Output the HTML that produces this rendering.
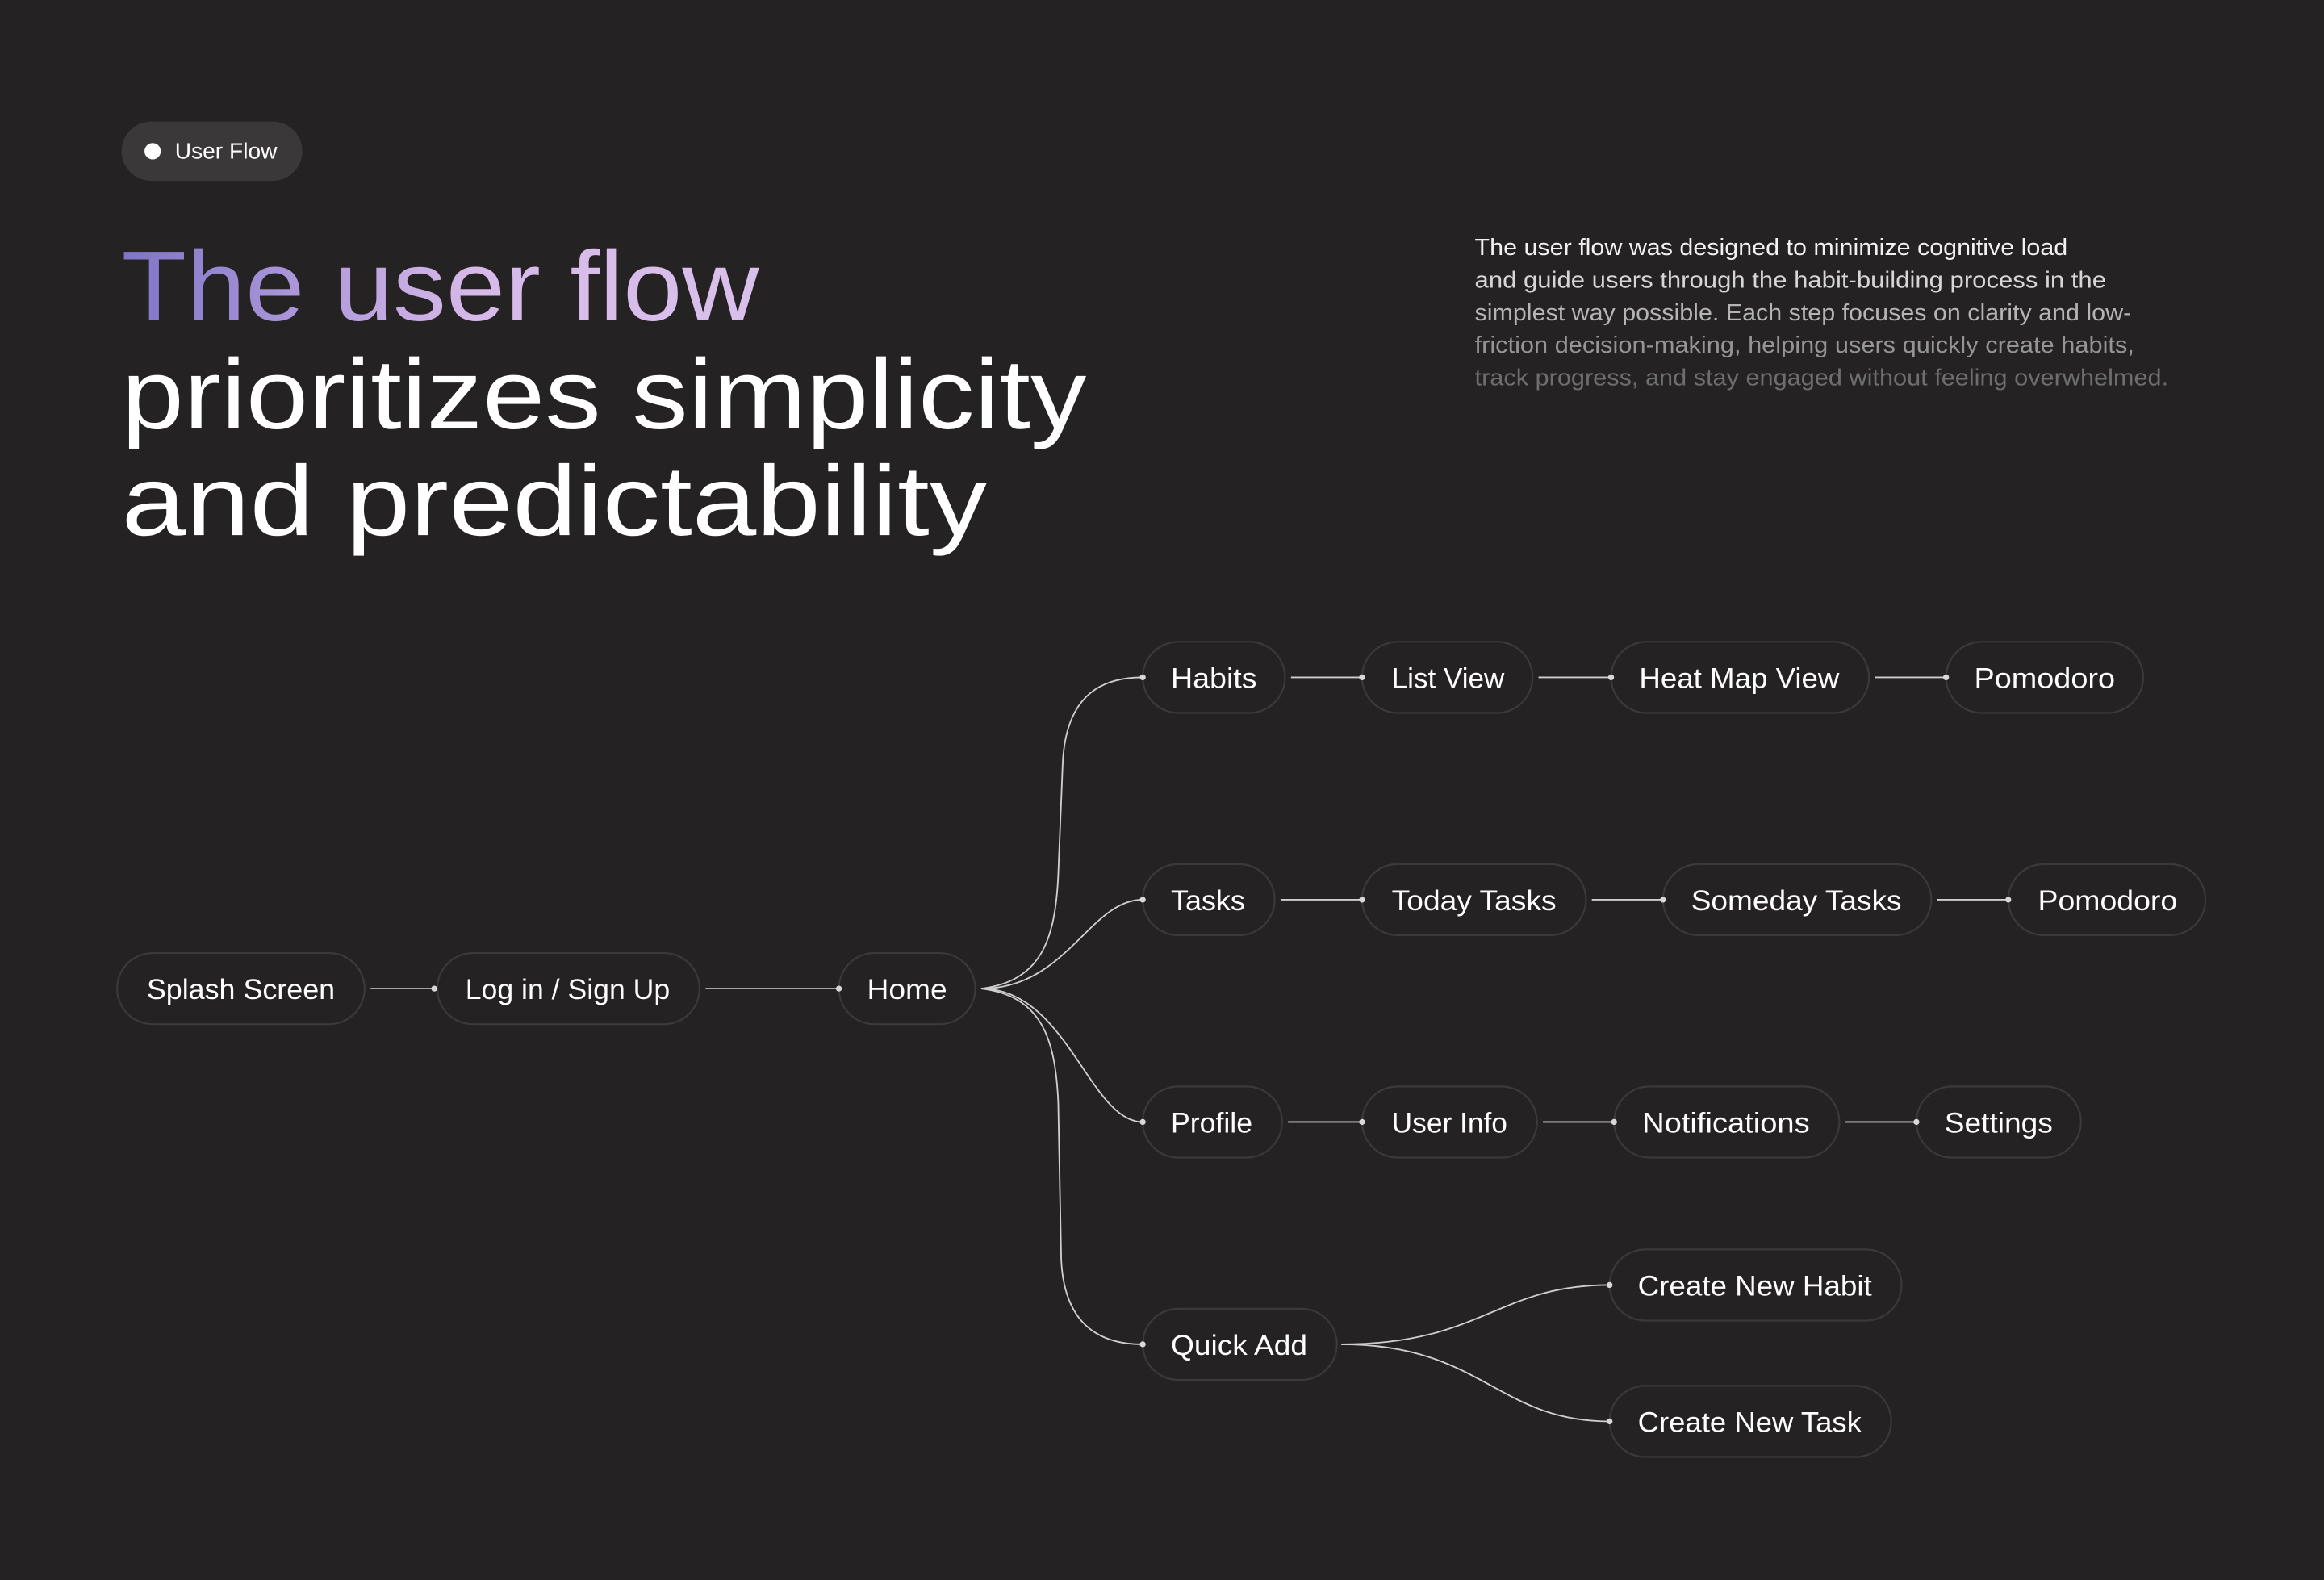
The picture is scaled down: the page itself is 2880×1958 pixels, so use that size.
<!DOCTYPE html>
<html><head><meta charset="utf-8"><style>
html,body{margin:0;padding:0;background:#252223;}
svg{display:block}
text{font-family:"Liberation Sans",sans-serif;}
</style></head><body>
<svg width="2880" height="1958" viewBox="0 0 1568 1066" xmlns="http://www.w3.org/2000/svg">
<defs>
<linearGradient id="g" x1="82" y1="0" x2="512" y2="0" gradientUnits="userSpaceOnUse">
<stop offset="0" stop-color="#7f74c8"/><stop offset="0.55" stop-color="#d7b9e9"/><stop offset="1" stop-color="#d9c0ea"/>
</linearGradient>
</defs>
<rect width="1568" height="1066" fill="#252223"/>
<rect x="82" y="82" width="122" height="40" rx="20" fill="#3a3839"/>
<circle cx="103" cy="102" r="5.5" fill="#fff"/>
<text x="118" y="107" font-size="15" fill="#fff" textLength="69" lengthAdjust="spacingAndGlyphs">User Flow</text>

<text x="82" y="216" font-size="67" fill="url(#g)" textLength="430" lengthAdjust="spacingAndGlyphs">The user flow</text>
<text x="82" y="289" font-size="67" fill="#fff" textLength="651" lengthAdjust="spacingAndGlyphs">prioritizes simplicity</text>
<text x="82" y="361" font-size="67" fill="#fff" textLength="584" lengthAdjust="spacingAndGlyphs">and predictability</text>

<g font-size="15.5">
<text x="995" y="172" fill="#f2f2f2" textLength="400" lengthAdjust="spacingAndGlyphs">The user flow was designed to minimize cognitive load</text>
<text x="995" y="194" fill="#d6d6d6" textLength="426" lengthAdjust="spacingAndGlyphs">and guide users through the habit-building process in the</text>
<text x="995" y="216" fill="#b5b5b5" textLength="443" lengthAdjust="spacingAndGlyphs">simplest way possible. Each step focuses on clarity and low-</text>
<text x="995" y="238" fill="#959595" textLength="445" lengthAdjust="spacingAndGlyphs">friction decision-making, helping users quickly create habits,</text>
<text x="995" y="260" fill="#6e6e6e" textLength="468" lengthAdjust="spacingAndGlyphs">track progress, and stay engaged without feeling overwhelmed.</text>
</g>

<g fill="none" stroke="#cfcfcf" stroke-width="1">
<path d="M662 667 C702 662 712 635 714 590 L717 515 C719 472 740 457 771 457"/>
<path d="M662 667 C720 667 735 607 771 607"/>
<path d="M662 667 C720 667 735 757 771 757"/>
<path d="M662 667 C702 672 712 699 714 744 L716 850 C718 892 740 907 771 907"/>
<path d="M905 907 C1000 907 1010 867 1086 867"/>
<path d="M905 907 C1000 907 1010 959 1086 959"/>
<line x1="250" y1="667" x2="293" y2="667"/>
<line x1="476" y1="667" x2="566" y2="667"/>
<line x1="871" y1="457" x2="919" y2="457"/>
<line x1="1038" y1="457" x2="1087" y2="457"/>
<line x1="1265" y1="457" x2="1313" y2="457"/>
<line x1="864" y1="607" x2="919" y2="607"/>
<line x1="1074" y1="607" x2="1122" y2="607"/>
<line x1="1307" y1="607" x2="1355" y2="607"/>
<line x1="869" y1="757" x2="919" y2="757"/>
<line x1="1041" y1="757" x2="1089" y2="757"/>
<line x1="1245" y1="757" x2="1293" y2="757"/>
</g>

<g fill="#252223" stroke="#3b393a" stroke-width="1.2">
<rect x="79" y="643" width="167" height="48" rx="24"/>
<rect x="295" y="643" width="177" height="48" rx="24"/>
<rect x="566" y="643" width="92" height="48" rx="24"/>
<rect x="771" y="433" width="96" height="48" rx="24"/>
<rect x="919" y="433" width="115" height="48" rx="24"/>
<rect x="1087" y="433" width="174" height="48" rx="24"/>
<rect x="1313" y="433" width="133" height="48" rx="24"/>
<rect x="771" y="583" width="89" height="48" rx="24"/>
<rect x="919" y="583" width="151" height="48" rx="24"/>
<rect x="1122" y="583" width="181" height="48" rx="24"/>
<rect x="1355" y="583" width="133" height="48" rx="24"/>
<rect x="771" y="733" width="94" height="48" rx="24"/>
<rect x="919" y="733" width="118" height="48" rx="24"/>
<rect x="1089" y="733" width="152" height="48" rx="24"/>
<rect x="1293" y="733" width="111" height="48" rx="24"/>
<rect x="771" y="883" width="131" height="48" rx="24"/>
<rect x="1086" y="843" width="197" height="48" rx="24"/>
<rect x="1086" y="935" width="190" height="48" rx="24"/>
</g>

<g fill="#d8d8d8">
<circle cx="293" cy="667" r="2"/><circle cx="566" cy="667" r="2"/>
<circle cx="771" cy="457" r="2"/><circle cx="919" cy="457" r="2"/><circle cx="1087" cy="457" r="2"/><circle cx="1313" cy="457" r="2"/>
<circle cx="771" cy="607" r="2"/><circle cx="919" cy="607" r="2"/><circle cx="1122" cy="607" r="2"/><circle cx="1355" cy="607" r="2"/>
<circle cx="771" cy="757" r="2"/><circle cx="919" cy="757" r="2"/><circle cx="1089" cy="757" r="2"/><circle cx="1293" cy="757" r="2"/>
<circle cx="771" cy="907" r="2"/><circle cx="1086" cy="867" r="2"/><circle cx="1086" cy="959" r="2"/>
</g>

<g fill="#fff" font-size="19">
<text x="99" y="674" textLength="127" lengthAdjust="spacingAndGlyphs">Splash Screen</text>
<text x="314" y="674" textLength="138" lengthAdjust="spacingAndGlyphs">Log in / Sign Up</text>
<text x="585" y="674" textLength="54" lengthAdjust="spacingAndGlyphs">Home</text>
<text x="790" y="464" textLength="58" lengthAdjust="spacingAndGlyphs">Habits</text>
<text x="939" y="464" textLength="76" lengthAdjust="spacingAndGlyphs">List View</text>
<text x="1106" y="464" textLength="135" lengthAdjust="spacingAndGlyphs">Heat Map View</text>
<text x="1332" y="464" textLength="95" lengthAdjust="spacingAndGlyphs">Pomodoro</text>
<text x="790" y="614" textLength="50" lengthAdjust="spacingAndGlyphs">Tasks</text>
<text x="939" y="614" textLength="111" lengthAdjust="spacingAndGlyphs">Today Tasks</text>
<text x="1141" y="614" textLength="142" lengthAdjust="spacingAndGlyphs">Someday Tasks</text>
<text x="1375" y="614" textLength="94" lengthAdjust="spacingAndGlyphs">Pomodoro</text>
<text x="790" y="764" textLength="55" lengthAdjust="spacingAndGlyphs">Profile</text>
<text x="939" y="764" textLength="78" lengthAdjust="spacingAndGlyphs">User Info</text>
<text x="1108" y="764" textLength="113" lengthAdjust="spacingAndGlyphs">Notifications</text>
<text x="1312" y="764" textLength="73" lengthAdjust="spacingAndGlyphs">Settings</text>
<text x="790" y="914" textLength="92" lengthAdjust="spacingAndGlyphs">Quick Add</text>
<text x="1105" y="874" textLength="158" lengthAdjust="spacingAndGlyphs">Create New Habit</text>
<text x="1105" y="966" textLength="151" lengthAdjust="spacingAndGlyphs">Create New Task</text>
</g>
</svg>
</body></html>
